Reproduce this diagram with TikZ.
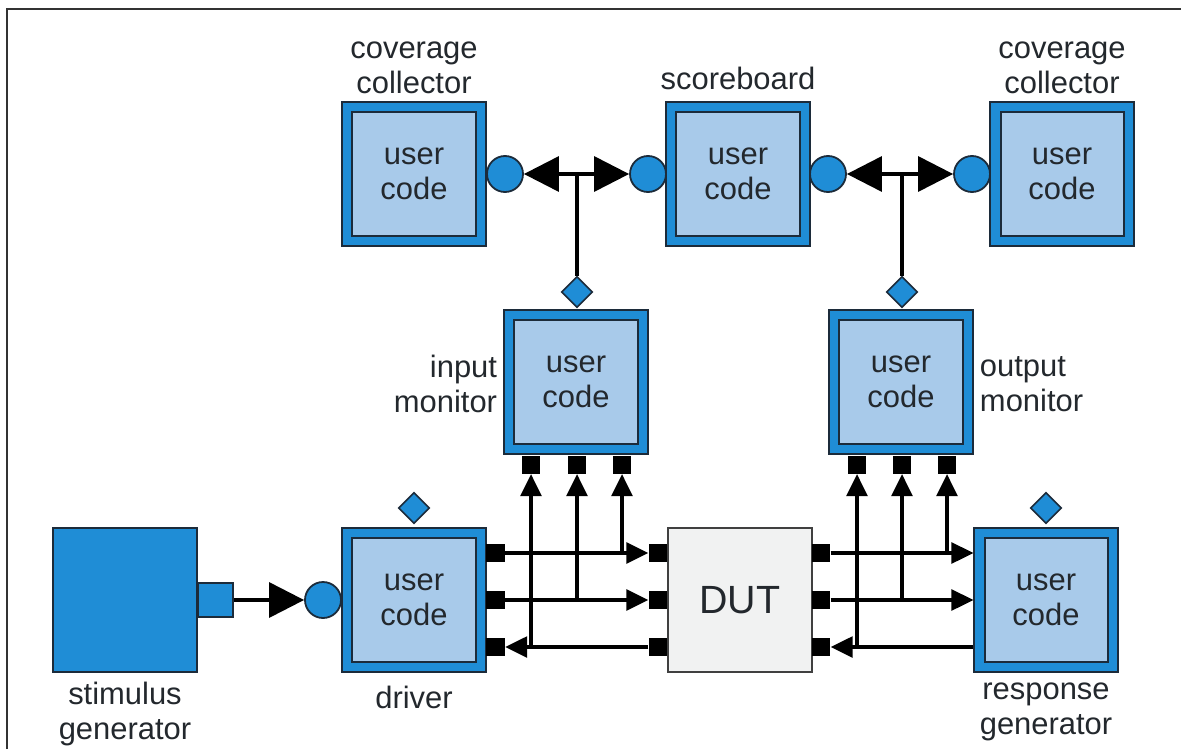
\documentclass[tikz,border=0pt]{standalone}
\usepackage{fontspec}
\setmainfont{Liberation Sans}
\usepackage{tikz}
\usetikzlibrary{arrows.meta, shapes.geometric}

\definecolor{navy}{HTML}{1C2B3A}
\definecolor{midblue}{HTML}{1F8DD6}
\definecolor{paleblue}{HTML}{A8CAEA}
\definecolor{dutgray}{HTML}{F1F2F2}
\definecolor{txtgray}{HTML}{23282D}

\begin{document}
\begin{tikzpicture}[x=0.025cm, y=-0.025cm,
    every node/.style={font=\fontsize{22}{25}\selectfont, text=txtgray},
    ucbox/.style={draw=navy, line width=0.05cm, double=midblue, double distance=0.2cm,
        fill=paleblue, minimum size=3.325cm, inner sep=0pt, outer sep=0.15cm, align=center},
    srcbox/.style={draw=navy, line width=0.05cm, fill=midblue, minimum size=3.6cm, inner sep=0pt},
    srcport/.style={draw=navy, line width=0.05cm, fill=midblue, minimum width=0.875cm,
        minimum height=0.85cm, inner sep=0pt},
    dutbox/.style={draw=black!75, line width=0.04cm, fill=dutgray, minimum width=3.6cm,
        minimum height=3.6cm, inner sep=0pt, font=\fontsize{28}{30}\selectfont},
    plug/.style={circle, draw=navy, line width=0.045cm, fill=midblue, minimum size=0.9cm, inner sep=0pt},
    tap/.style={diamond, draw=navy, line width=0.04cm, fill=midblue, minimum size=0.78cm, inner sep=0pt},
    pin/.style={fill=black, minimum width=0.47cm, minimum height=0.44cm, inner sep=0pt},
    lbl/.style={align=center},
    wire/.style={line width=0.08cm, black},
    bigtip/.style={-{Triangle[length=0.875cm, width=0.875cm]}},
    smalltip/.style={-{Triangle[length=0.55cm, width=0.52cm]}}]
    \useasboundingbox (0,0) rectangle (1181,749);
    \draw[line width=0.04cm, black!80] (7,749) -- (7,9) -- (1181,9);

    % top row: collectors and scoreboard
    \node[ucbox] (covl) at (414,174) {user\\code};
    \node[ucbox] (score) at (738,174) {user\\code};
    \node[ucbox] (covr) at (1062,174) {user\\code};
    \node[plug] (covlp) at (505,174) {};
    \node[plug] (scorew) at (648,174) {};
    \node[plug] (scoree) at (828,174) {};
    \node[plug] (covrp) at (972,174) {};
    \node[lbl] (covllbl) at (414,68) {coverage\\collector};
    \node[lbl] (scorelbl) at (738,78) {scoreboard};
    \node[lbl] (covrlbl) at (1062,68) {coverage\\collector};

    % monitors
    \node[ucbox] (imon) at (576,382) {user\\code};
    \node[ucbox] (omon) at (901,382) {user\\code};
    \node[tap] (imond) at (577,292) {};
    \node[tap] (omond) at (902,292) {};
    \node[lbl, align=right, anchor=east] (imonlbl) at (502,384) {input\\monitor};
    \node[lbl, align=left, anchor=west] (omonlbl) at (975,384) {output\\monitor};
    \foreach \x [count=\i] in {531,577,622}
        \node[pin] (imp\i) at (\x,465) {};
    \foreach \x [count=\i] in {857,902,947}
        \node[pin] (omp\i) at (\x,465) {};

    % bottom row
    \node[srcbox] (stim) at (125,600) {};
    \node[srcport] (stimp) at (215.5,600) {};
    \node[ucbox] (drv) at (414,600) {user\\code};
    \node[plug] (drvc) at (323,600) {};
    \node[tap] (drvd) at (414,508) {};
    \node[dutbox] (dut) at (740,600) {DUT};
    \node[ucbox] (resp) at (1046,600) {user\\code};
    \node[tap] (respd) at (1046,508) {};
    \foreach \y [count=\i] in {553,600,647} {
        \node[pin] (drvp\i) at (495.5,\y) {};
        \node[pin] (dutl\i) at (658,\y) {};
        \node[pin] (dutr\i) at (821,\y) {};
    }
    \node[lbl] (stimlbl) at (125,714) {stimulus\\generator};
    \node[lbl] (drvlbl) at (414,697) {driver};
    \node[lbl] (resplbl) at (1046,712) {response\\generator};

    % analysis connections
    \coordinate (jl) at (imond |- covlp);
    \coordinate (jr) at (omond |- scoree);
    \draw[wire, bigtip] (jl) -- (covlp);
    \draw[wire, bigtip] (jl) -- (scorew);
    \draw[wire] (imond) -- (jl);
    \draw[wire, bigtip] (jr) -- (scoree);
    \draw[wire, bigtip] (jr) -- (covrp);
    \draw[wire] (omond) -- (jr);

    % stimulus side
    \draw[wire, bigtip] (stimp) -- (drvc);
    \draw[wire, smalltip] (drvp1) -- (dutl1);
    \draw[wire, smalltip] (drvp2) -- (dutl2);
    \draw[wire, smalltip] (dutl3) -- (drvp3);
    \draw[wire, smalltip] (imp1 |- drvp3) -- (imp1);
    \draw[wire, smalltip] (imp2 |- drvp2) -- (imp2);
    \draw[wire, smalltip] (imp3 |- drvp1) -- (imp3);

    % response side
    \draw[wire, smalltip] (dutr1) -- (resp.west |- dutr1);
    \draw[wire, smalltip] (dutr2) -- (resp.west |- dutr2);
    \draw[wire, smalltip] (resp.west |- dutr3) -- (dutr3);
    \draw[wire, smalltip] (omp1 |- dutr3) -- (omp1);
    \draw[wire, smalltip] (omp2 |- dutr2) -- (omp2);
    \draw[wire, smalltip] (omp3 |- dutr1) -- (omp3);
\end{tikzpicture}
\end{document}
